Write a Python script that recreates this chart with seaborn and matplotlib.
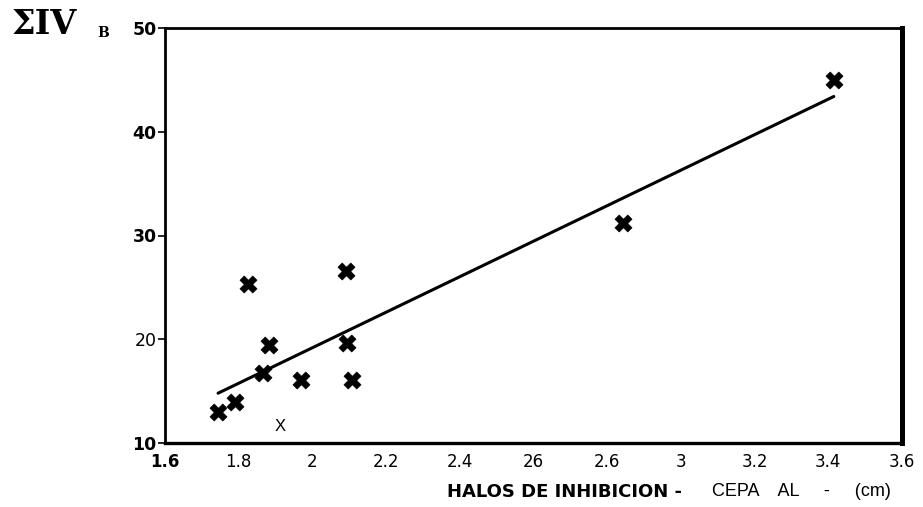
import matplotlib
matplotlib.use("Agg")
import matplotlib.pyplot as plt
import seaborn as sns
import pandas as pd

# Inhibition halo diameter (cm) against summed index IV_B
halo_cm = [1.744, 1.790, 1.825, 1.866, 1.882, 1.969, 2.091, 2.094, 2.107, 2.843, 3.415]
sum_iv_b = [13.0, 13.95, 25.3, 16.75, 19.45, 16.1, 26.6, 19.6, 16.1, 31.2, 45.0]

# Hand-fitted trend line endpoints
trend_x = [1.744, 3.415]
trend_y = [14.8, 43.4]

x_ticks = [1.6, 1.8, 2.0, 2.2, 2.4, 2.6, 2.8, 3.0, 3.2, 3.4, 3.6]
x_tick_labels = ["1.6", "1.8", "2", "2.2", "2.4", "26", "2.6", "3", "3.2", "3.4", "3.6"]
y_ticks = [10, 20, 30, 40, 50]
y_tick_labels = ["10", "20", "30", "40", "50"]

sns.set_style("white")
plt.rcParams["font.family"] = ["DejaVu Sans"]

df = pd.DataFrame({"halo": halo_cm, "iv": sum_iv_b})
trend = pd.DataFrame({"halo": trend_x, "iv": trend_y})

fig = plt.figure(figsize=(9.23, 5.07), dpi=100)
ax = fig.add_axes([165 / 923, 1 - 443 / 507, (902 - 165) / 923, (443 - 28) / 507])

sns.lineplot(data=trend, x="halo", y="iv", color="black", linewidth=2.2, ax=ax)
sns.scatterplot(data=df, x="halo", y="iv", marker="X", s=150, color="black",
                edgecolor="black", linewidth=0.5, ax=ax, zorder=3)

ax.text(1.912, 11.6, "X", fontsize=12, family="Liberation Sans",
        ha="center", va="center", color="black")

ax.set_xlim(1.6, 3.6)
ax.set_ylim(10, 50)
ax.set_xticks(x_ticks)
ax.set_xticklabels(x_tick_labels, fontsize=12)
ax.get_xticklabels()[0].set_fontweight("bold")
ax.set_yticks(y_ticks)
ax.set_yticklabels(y_tick_labels, fontsize=12.5)
for lbl, w in zip(ax.get_yticklabels(), ["bold", "normal", "bold", "bold", "bold"]):
    lbl.set_fontweight(w)
ax.tick_params(axis="x", length=0, pad=7, colors="black")
ax.tick_params(axis="y", length=5, width=1.2, pad=1, left=True, colors="black")
ax.set_xlabel("")
ax.set_ylabel("")

for side, lw in {"left": 2.0, "bottom": 2.4, "top": 2.0, "right": 3.6}.items():
    ax.spines[side].set_visible(True)
    ax.spines[side].set_color("black")
    ax.spines[side].set_linewidth(lw)

# Axis title, bold part then plain part
ax.text(0.382, -0.118, "HALOS DE INHIBICION -", transform=ax.transAxes,
        fontsize=13, fontweight="bold", ha="left", va="center", color="black")
ax.text((712 - 165) / 737, -0.118, "CEPA    AL     -     (cm)", transform=ax.transAxes,
        fontsize=13, family="Liberation Sans", ha="left", va="center", color="black")

# Y quantity label
fig.text(12 / 923, 1 - 24 / 507, "\u03a3IV", fontsize=24, fontweight="bold",
         family="DejaVu Serif", ha="left", va="center", color="black")
fig.text(97 / 923, 1 - 33 / 507, "B", fontsize=10, fontweight="bold",
         family="DejaVu Serif", ha="left", va="center", color="black")

fig.savefig("out.png", dpi=100, facecolor="white")
